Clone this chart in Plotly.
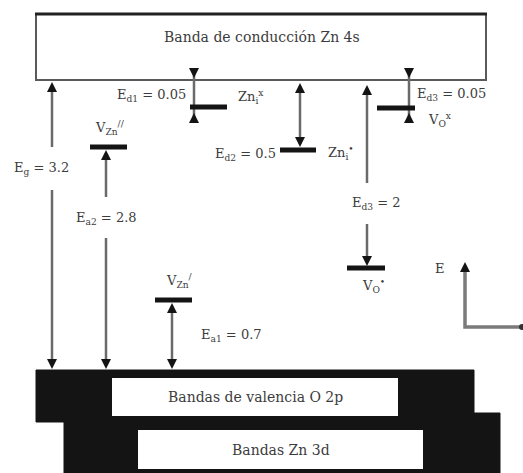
import plotly.graph_objects as go

# ---------------- data (energies in eV) ----------------
band_gap = 3.2
level_names = ["V<sub>Zn</sub><sup>//</sup>", "V<sub>Zn</sub><sup>/</sup>",
               "Zn<sub>i</sub><sup>x</sup>", "Zn<sub>i</sub><sup>•</sup>",
               "V<sub>O</sub><sup>x</sup>", "V<sub>O</sub><sup>•</sup>"]
level_symbols = ["E<sub>a2</sub>", "E<sub>a1</sub>", "E<sub>d1</sub>",
                 "E<sub>d2</sub>", "E<sub>d3</sub>", "E<sub>d3</sub>"]
level_energies = [2.8, 0.7, 0.05, 0.5, 0.05, 2]
band_names = ["Banda de conducción Zn 4s", "Bandas de valencia O 2p", "Bandas Zn 3d"]

# ---------------- diagram layout (pixel-like units) ----------------
lvl_x0 = [90, 155, 190, 280, 377, 347]
lvl_x1 = [127, 192, 227, 316, 415, 385]
lvl_y = [147, 300, 107, 150, 108, 268]

name_x = [110, 179, 251, 341, 440, 373]
name_y = [128, 281, 97, 153, 120, 286]

elab_x = [106, 199, 188, 278, 415, 376]
elab_y = [218, 335, 95, 154, 94, 203]
elab_anchor = ["center", "left", "right", "right", "left", "center"]

# vertical segments: x, y0, y1
seg_x = [52, 52, 106, 106, 172, 194, 300, 409, 367, 367]
seg_y0 = [88, 190, 153, 238, 306, 68, 86, 68, 88, 224]
seg_y1 = [147, 362, 197, 362, 362, 122, 144, 122, 183, 262]

up_x = [52, 106, 172, 194, 300, 409, 367, 465]
up_y = [82, 150, 303, 113, 83, 113, 85, 262]
dn_x = [52, 106, 172, 194, 300, 409, 367]
dn_y = [369, 369, 369, 78, 147, 78, 266]

LINE = "#6a6a6a"
DARK = "#141414"
TXT = "#3c3c3c"
FONT = "DejaVu Serif"

fig = go.Figure()

# conduction band box
fig.add_shape(type="rect", x0=36, x1=486, y0=14, y1=80,
              line=dict(color="#5a5a5a", width=2), fillcolor="white", layer="below")
fig.add_shape(type="line", x0=35, x1=487, y0=14, y1=14, line=dict(color="#222", width=3))

# valence band block
fig.add_shape(type="path",
              path="M36,370 L474,370 L474,413 L500,413 L500,474 L64,474 L64,422 L36,422 Z",
              fillcolor=DARK, line=dict(color=DARK, width=1), layer="below")
fig.add_shape(type="rect", x0=112, x1=398, y0=378, y1=416,
              fillcolor="white", line=dict(width=0), layer="below")
fig.add_shape(type="rect", x0=138, x1=423, y0=430, y1=469,
              fillcolor="white", line=dict(width=0), layer="below")

# vertical arrow shafts
xs, ys = [], []
for x, a, b in zip(seg_x, seg_y0, seg_y1):
    xs += [x, x, None]
    ys += [a, b, None]
fig.add_trace(go.Scatter(x=xs, y=ys, mode="lines",
                         line=dict(color=LINE, width=2.5), hoverinfo="skip"))

# E axis symbol
fig.add_trace(go.Scatter(x=[465, 465, 521], y=[270, 327, 327], mode="lines",
                         line=dict(color="#7a7a7a", width=3.5), hoverinfo="skip"))
fig.add_trace(go.Scatter(x=[522], y=[327], mode="markers",
                         marker=dict(symbol="circle", size=6, color="#333"), hoverinfo="skip"))

# defect levels
bx, by = [], []
for a, b, y in zip(lvl_x0, lvl_x1, lvl_y):
    bx += [a, b, None]
    by += [y, y, None]
fig.add_trace(go.Scatter(x=bx, y=by, mode="lines",
                         line=dict(color=DARK, width=5), hoverinfo="skip"))

# arrow heads
fig.add_trace(go.Scatter(x=up_x, y=up_y, mode="markers",
                         marker=dict(symbol="arrow-up", size=10, color=DARK,
                                     line=dict(width=0)), hoverinfo="skip"))
fig.add_trace(go.Scatter(x=dn_x, y=dn_y, mode="markers",
                         marker=dict(symbol="arrow-down", size=10, color=DARK,
                                     line=dict(width=0)), hoverinfo="skip"))

ann = []
ann.append(dict(x=262, y=37, text=band_names[0], font=dict(size=14)))
ann.append(dict(x=255, y=397, text=band_names[1], font=dict(size=14)))
ann.append(dict(x=281, y=450, text=band_names[2], font=dict(size=14)))
ann.append(dict(x=41, y=168, text=f"E<sub>g</sub> = {band_gap}", font=dict(size=13)))
for i in range(6):
    ann.append(dict(x=name_x[i], y=name_y[i], text=level_names[i], font=dict(size=13)))
    ann.append(dict(x=elab_x[i], y=elab_y[i],
                    text=f"{level_symbols[i]} = {level_energies[i]}",
                    xanchor=elab_anchor[i], font=dict(size=13)))
ann.append(dict(x=440, y=268, text="E", font=dict(size=13)))

for a in ann:
    a.setdefault("xanchor", "center")
    a.update(xref="x", yref="y", yanchor="middle", showarrow=False)
    a["font"].update(family=FONT, color=TXT)
fig.update_layout(annotations=ann)

fig.update_layout(width=523, height=473, margin=dict(l=0, r=0, t=0, b=0),
                  paper_bgcolor="white", plot_bgcolor="white", showlegend=False,
                  xaxis=dict(range=[0, 523], visible=False, fixedrange=True),
                  yaxis=dict(range=[473, 0], visible=False, fixedrange=True))

fig.write_html("out.html", config={"displayModeBar": False},
               post_script="document.body.style.margin='0';document.body.style.overflow='hidden';")
